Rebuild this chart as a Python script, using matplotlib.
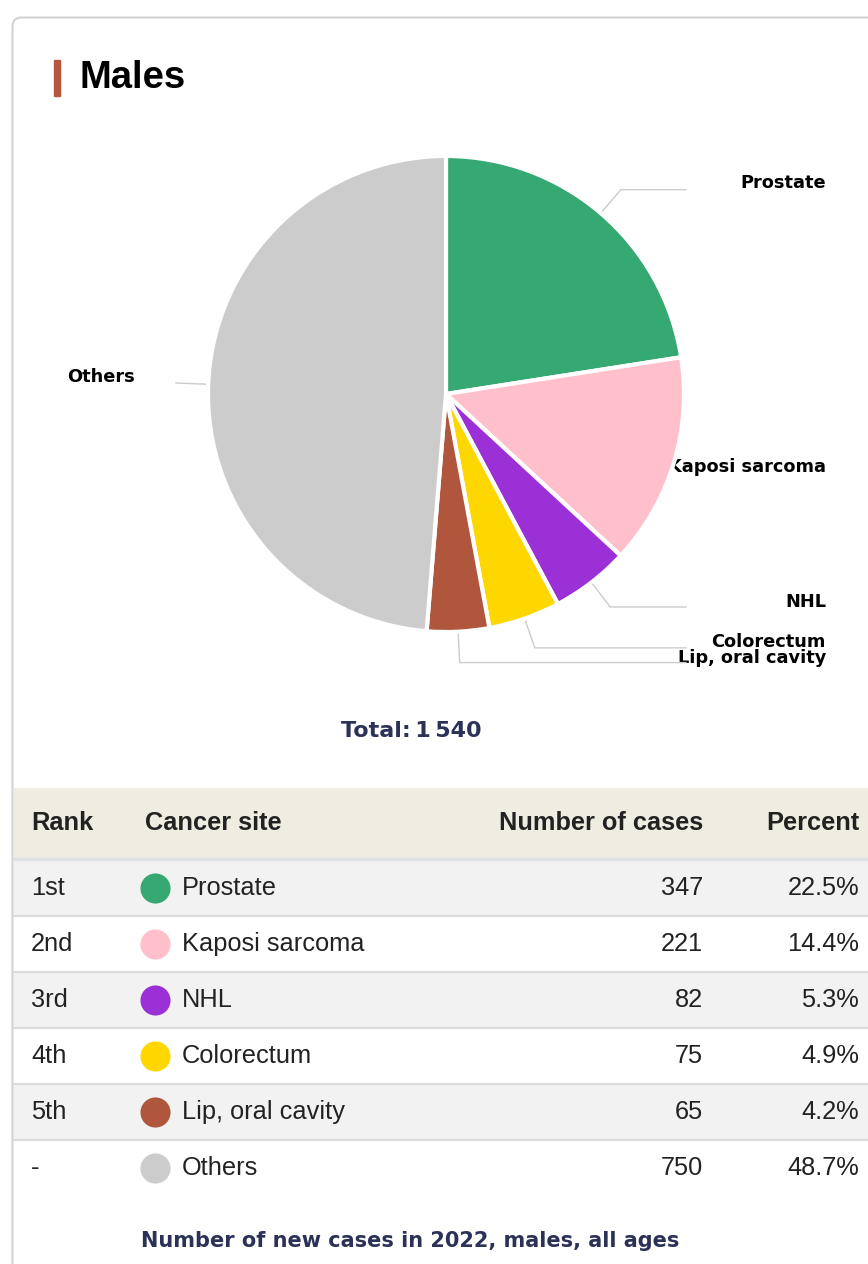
import numpy as np
import matplotlib.pyplot as plt
from matplotlib.patches import Rectangle, FancyBboxPatch

# data
ranks = ['1st', '2nd', '3rd', '4th', '5th', '-']
sites = ['Prostate', 'Kaposi sarcoma', 'NHL', 'Colorectum', 'Lip, oral cavity', 'Others']
cases = [347, 221, 82, 75, 65, 750]
percents = [22.5, 14.4, 5.3, 4.9, 4.2, 48.7]
colors = ['#36a872', '#ffc0cb', '#9b30d6', '#ffd700', '#b0563c', '#cccccc']
total = 1540

W, H = 868, 1264
fig = plt.figure(figsize=(W / 100, H / 100), dpi=100)
ax = fig.add_axes([0, 0, 1, 1])

navy = '#2b3157'
table_font = 'Liberation Sans'

# card outline
ax.add_patch(FancyBboxPatch((12.5, 17.5), 900, 1300, boxstyle='round,pad=0,rounding_size=9',
                            fc='white', ec='#d2d2d2', lw=1.5, zorder=-2))

# title with accent bar
ax.add_patch(Rectangle((54, 60), 6, 36, color='#b5563d', zorder=2))
ax.text(80, 78, 'Males', fontsize=27.5, fontweight='bold', family=table_font,
        va='center', ha='left', color='black')

# pie (y axis is inverted, so counterclock in data = clockwise on screen)
cx, cy, r = 446, 394, 238
wedges, _ = ax.pie(cases, colors=colors, center=(cx, cy), radius=r, startangle=-90,
                   counterclock=True, wedgeprops=dict(edgecolor='white', linewidth=3))
ax.set_xlim(0, W)
ax.set_ylim(H, 0)
ax.axis('off')

# pie labels + connectors
label_y = [183, 467, 602, 642, 658, 377]
for w, name, ly in zip(wedges, sites, label_y):
    mid = np.deg2rad((w.theta1 + w.theta2) / 2)
    ux, uy = np.cos(mid), np.sin(mid)
    ax0, ay0 = cx + r * ux, cy + r * uy
    ex, ey = cx + 1.13 * r * ux, cy + 1.13 * r * uy
    right = ux > 0
    end_x = 686 if right else 176
    if (right and ex < end_x) or (not right and ex > end_x):
        ax.plot([ax0, ex, end_x], [ay0, ey, ey], color='#cccccc', lw=1, zorder=0.6)
    if right:
        ax.text(826, ly, name, ha='right', va='center', fontsize=12.8, fontweight='bold',
                family='DejaVu Sans', zorder=0.5)
    else:
        ax.text(67, ly, name, ha='left', va='center', fontsize=12.8, fontweight='bold',
                family='DejaVu Sans', zorder=0.5)

ax.text(411, 731, 'Total:\u202f' + f'{total:,}'.replace(',', '\u202f'), ha='center', va='center',
        fontsize=16, fontweight='bold', color=navy, family='DejaVu Sans')

# table
hdr_top, hdr_h, row_h = 788, 71, 56
ax.add_patch(Rectangle((14, hdr_top), 870, hdr_h, fc='#efede2', ec='none', zorder=0))
hy = hdr_top + 35
hkw = dict(fontsize=18.3, fontweight='bold', family=table_font, va='center', color='#222222')
ax.text(31, hy, 'Rank', ha='left', **hkw)
ax.text(145, hy, 'Cancer site', ha='left', **hkw)
ax.text(703, hy, 'Number of cases', ha='right', **hkw)
ax.text(859, hy, 'Percent', ha='right', **hkw)
ax.plot([14, W], [hdr_top + hdr_h, hdr_top + hdr_h], color='#dfe2e5', lw=2.5, zorder=1)

rkw = dict(fontsize=18.3, family=table_font, va='center', color='#222222')
for i, (rk, site, n, p, c) in enumerate(zip(ranks, sites, cases, percents, colors)):
    top = hdr_top + hdr_h + 1 + i * row_h
    fc = '#f2f2f2' if i % 2 == 0 else 'white'
    ax.add_patch(Rectangle((14, top), 870, row_h, fc=fc, ec='none', zorder=0))
    if i < len(ranks) - 1:
        ax.plot([14, W], [top + row_h, top + row_h], color='#dddddd', lw=1.5, zorder=1)
    yc = top + row_h / 2
    ax.text(31, yc, rk, ha='left', **rkw)
    ax.scatter([155], [yc], s=470, color=c, zorder=3, linewidths=0)
    ax.text(182, yc, site, ha='left', **rkw)
    ax.text(703, yc, f'{n}', ha='right', **rkw)
    ax.text(859, yc, f'{p:.1f}%', ha='right', **rkw)

ax.text(410, 1241, 'Number of new cases in 2022, males, all ages', ha='center', va='center',
        fontsize=15, fontweight='bold', color=navy, family='DejaVu Sans')

fig.savefig('out.png', dpi=100)
